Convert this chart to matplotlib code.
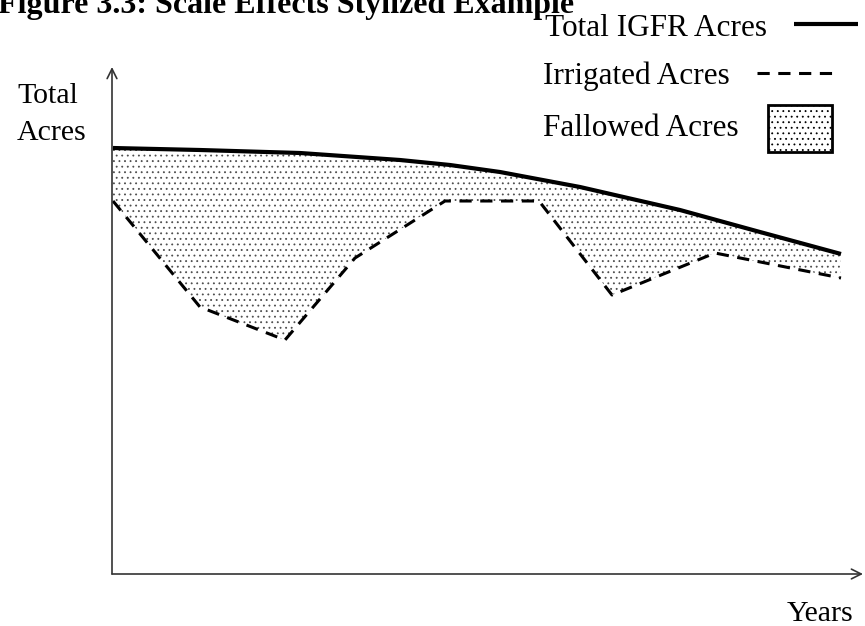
import numpy as np
import matplotlib.pyplot as plt
import matplotlib.patches as patches
from matplotlib.lines import Line2D

plt.rcParams['font.family'] = ['Liberation Serif', 'DejaVu Serif']
plt.rcParams['hatch.linewidth'] = 0.6

# stylized series (arbitrary units, x = time)
years = [1, 88, 173, 243, 333, 427, 500, 603, 729]
irrigated = [373, 267, 234, 316, 373, 373, 279, 321, 296]

total_years = [1, 88, 188, 288, 338, 388, 468, 568, 648, 729]
total_igfr = [426, 424, 421, 414, 409, 402, 387, 364, 342, 320]

W, H = 865, 626


def fx(x):
    return x / W


def fy(y):
    return 1 - y / H


def main():
    fig = plt.figure(figsize=(W / 100, H / 100), dpi=100)
    ax = fig.add_axes([fx(112), fy(574), (W - 112) / W, (574 - 67) / H])
    ax.set_xlim(0, W - 112)
    ax.set_ylim(0, 574 - 67)
    ax.axis('off')

    # put both series on one grid for the fill
    xs = np.unique(np.array(total_years + years))
    tot = np.interp(xs, total_years, total_igfr)
    irr = np.interp(xs, years, irrigated)
    ax.fill_between(xs, irr, tot, facecolor='white', edgecolor='0.3',
                    hatch='...', linewidth=0)

    ax.plot(total_years, total_igfr, color='black', lw=3.0,
            solid_capstyle='butt')
    ax.plot(years, irrigated, color='black', lw=2.2,
            linestyle=(0, (4, 2.8)))

    # axes with open arrowheads
    arrow = dict(arrowstyle='->,head_length=0.7,head_width=0.35',
                 color='#333333', lw=1.2, shrinkA=0, shrinkB=0)
    ax.annotate('', xy=(0, 574 - 67), xytext=(0, 0), arrowprops=arrow,
                annotation_clip=False)
    ax.annotate('', xy=(W - 112 - 2, 0), xytext=(0, 0), arrowprops=arrow,
                annotation_clip=False)

    # title (clipped at top in the original)
    fig.text(fx(-2), fy(13), 'Figure 3.3: Scale Effects Stylized Example',
             fontsize=23, fontweight='bold', va='baseline', ha='left')

    # axis labels
    fig.text(fx(17), fy(103), 'Total', fontsize=21.5, va='baseline')
    fig.text(fx(17), fy(140), 'Acres', fontsize=21.5, va='baseline')
    fig.text(fx(787), fy(621), 'Years', fontsize=21.5, va='baseline')

    # legend
    fig.text(fx(545), fy(36), 'Total IGFR Acres', fontsize=22.5, va='baseline')
    fig.text(fx(543), fy(84), 'Irrigated Acres', fontsize=22.5, va='baseline')
    fig.text(fx(543), fy(136), 'Fallowed Acres', fontsize=22.5, va='baseline')

    fig.add_artist(Line2D([fx(794), fx(858)], [fy(24), fy(24)],
                          color='black', lw=3.0, solid_capstyle='butt'))
    fig.add_artist(Line2D([fx(757), fx(834)], [fy(73), fy(73)],
                          color='black', lw=2.2, linestyle=(0, (4, 2.8))))
    box = patches.Rectangle((fx(768), fy(152)), fx(832) - fx(768),
                            fy(105) - fy(152), transform=fig.transFigure,
                            facecolor='white', edgecolor='black', lw=2.0,
                            hatch='...')
    fig.add_artist(box)

    fig.savefig('out.png', dpi=100)


if __name__ == '__main__':
    main()
